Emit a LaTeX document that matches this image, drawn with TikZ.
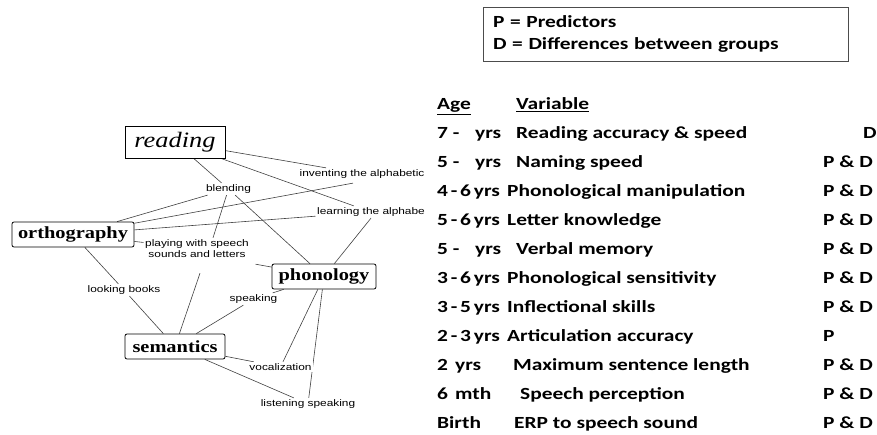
\documentclass[tikz,border=0pt]{standalone}
\usepackage{fontspec}
\usetikzlibrary{backgrounds}

\newfontfamily\tabfont[FakeStretch=1.26]{Carlito}
\newfontfamily\boxfont[FakeStretch=1.2]{Liberation Serif}
\newfontfamily\lblfont[FakeStretch=1.25]{Liberation Sans}

\tikzset{
	concept/.style={draw, rounded corners=2pt, line width=0.8pt, inner sep=0pt, minimum height=25pt, font=\boxfont\fontsize{17}{17}\selectfont\bfseries},
	linklabel/.style={inner sep=1.5pt, align=center, font=\lblfont\fontsize{9.5}{11}\selectfont},
	maplink/.style={draw=black!75, line width=0.6pt},
	tab/.style={anchor=base west, inner sep=0pt, font=\tabfont\fontsize{17}{17}\selectfont\bfseries},
	agecol/.style={tab, font={\tabfont\fontsize{17}{17}\selectfont\bfseries\spaceskip 2.8pt\relax}}
}

\begin{document}
\begin{tikzpicture}[x=1pt, y=-1pt]
	\useasboundingbox (0,0) rectangle (877,434);
	
	% concept map
	\node [draw, line width=0.8pt, minimum width=100pt, minimum height=32pt, inner sep=0pt, font=\boxfont\fontsize{22}{22}\selectfont\itshape] (reading) at (175,142) {reading};
	\node [concept, minimum width=122pt] (orthography) at (73,234.5) {orthography};
	\node [concept, minimum width=104pt] (phonology) at (324,276.5) {phonology};
	\node [concept, minimum width=100pt] (semantics) at (175,346.5) {semantics};
	
	\node [linklabel] (inventing) at (362,174) {inventing the alphabetic};
	\node [linklabel] (blending) at (228.5,189) {blending};
	\node [linklabel] (learning) at (371,212) {learning the alphabe};
	\node [linklabel] (playing) at (197,248.5) {playing with speech\\sounds and letters};
	\node [linklabel] (looking) at (124,290) {looking books};
	\node [linklabel] (speaking) at (253.5,299) {speaking};
	\node [linklabel, fill=white] (vocalization) at (280.5,367) {vocalization};
	\node [linklabel] (listening) at (308,404) {listening speaking};
	
	\begin{pgfonlayer}{background}
		\draw [maplink] (reading) -- (blending);
		\draw [maplink] (reading) -- (inventing);
		\draw [maplink] (reading) -- (learning);
		\draw [maplink] (blending) -- (orthography);
		\draw [maplink] ([xshift=-9pt, yshift=-3pt]inventing.south) -- (orthography);
		\draw [maplink] (learning) -- (orthography);
		\draw [maplink] (blending) -- ([xshift=16pt]playing.north);
		\draw [maplink] (blending) -- (phonology);
		\draw [maplink] (learning.south) -- (phonology);
		\draw [maplink] (orthography) -- (playing);
		\draw [maplink] ([xshift=5pt, yshift=-5pt]playing.south east) -- (phonology);
		\draw [maplink] (orthography) -- (looking);
		\draw [maplink] (looking) -- (semantics);
		\draw [maplink] ([xshift=3pt, yshift=-14pt]playing.south) -- (semantics);
		\draw [maplink] (semantics) -- (speaking);
		\draw [maplink] (speaking) -- (phonology);
		\draw [maplink] (phonology) -- (vocalization);
		\draw [maplink] (phonology) -- (listening);
		\draw [maplink] (semantics) -- (vocalization);
		\draw [maplink] (semantics) -- (listening);
	\end{pgfonlayer}
	
	% legend
	\node [draw=black!70, line width=0.8pt, minimum width=365pt, minimum height=54pt, text width=345pt, inner xsep=10pt, inner ysep=0pt, align=left, font=\tabfont\fontsize{17}{22}\selectfont\bfseries] (legend) at (665.5,34) {P = Predictors\\D = Differences between groups};
	
	% table
	\node [tab] (agehead) at (437,109.5) {\underline{Age}};
	\node [tab] (varhead) at (516,109.5) {\underline{Variable}};
	
	\node [tab] (age1) at (437,138.5) {\makebox[38pt][l]{7 -}yrs};
	\node [tab] (var1) at (516,138.5) {Reading accuracy \& speed};
	\node [tab] (pd1) at (863,138.5) {D};
	
	\node [tab] (age2) at (437,167.5) {\makebox[38pt][l]{5 -}yrs};
	\node [tab] (var2) at (516,167.5) {Naming speed};
	\node [tab] (pd2) at (823,167.5) {P \& D};
	
	\node [agecol] (age3) at (437,196.5) {4 - 6 yrs};
	\node [tab] (var3) at (507,196.5) {Phonological manipulation};
	\node [tab] (pd3) at (823,196.5) {P \& D};
	
	\node [agecol] (age4) at (437,225.5) {5 - 6 yrs};
	\node [tab] (var4) at (507,225.5) {Letter knowledge};
	\node [tab] (pd4) at (823,225.5) {P \& D};
	
	\node [tab] (age5) at (437,254.5) {\makebox[38pt][l]{5 -}yrs};
	\node [tab] (var5) at (516,254.5) {Verbal memory};
	\node [tab] (pd5) at (823,254.5) {P \& D};
	
	\node [agecol] (age6) at (437,283.5) {3 - 6 yrs};
	\node [tab] (var6) at (507,283.5) {Phonological sensitivity};
	\node [tab] (pd6) at (823,283.5) {P \& D};
	
	\node [agecol] (age7) at (437,312.5) {3 - 5 yrs};
	\node [tab] (var7) at (507,312.5) {Inflectional skills};
	\node [tab] (pd7) at (823,312.5) {P \& D};
	
	\node [agecol] (age8) at (437,341.5) {2 - 3 yrs};
	\node [tab] (var8) at (507,341.5) {Articulation accuracy};
	\node [tab] (pd8) at (823,341.5) {P};
	
	\node [tab] (age9) at (437,370.5) {\makebox[18pt][l]{2}yrs};
	\node [tab] (var9) at (513,370.5) {Maximum sentence length};
	\node [tab] (pd9) at (823,370.5) {P \& D};
	
	\node [tab] (age10) at (437,399.5) {\makebox[18pt][l]{6}mth};
	\node [tab] (var10) at (520,399.5) {Speech perception};
	\node [tab] (pd10) at (823,399.5) {P \& D};
	
	\node [tab] (age11) at (437,428.5) {Birth};
	\node [tab] (var11) at (514,428.5) {ERP to speech sound};
	\node [tab] (pd11) at (823,428.5) {P \& D};
\end{tikzpicture}
\end{document}
